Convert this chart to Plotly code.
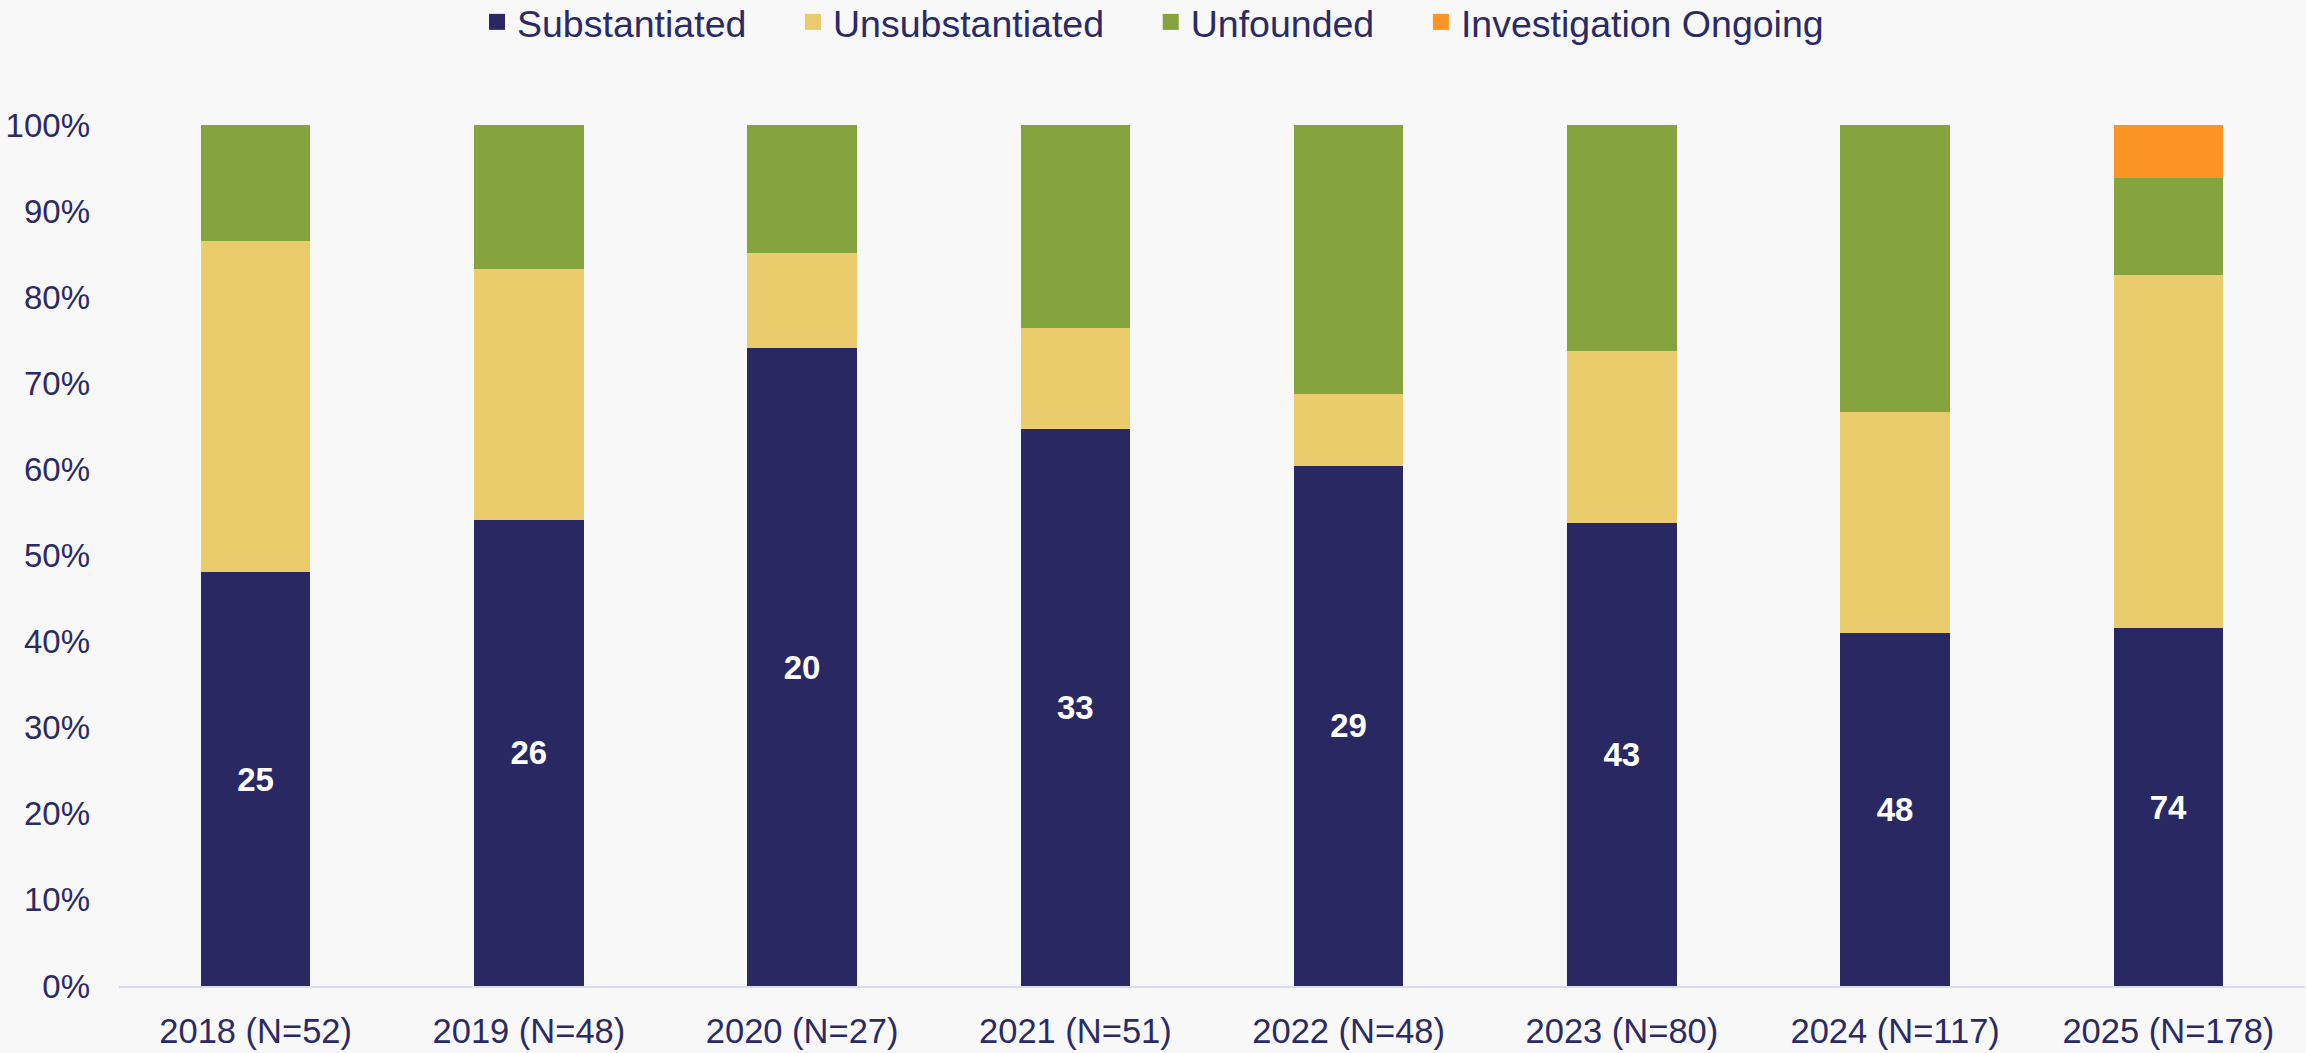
import plotly.graph_objects as go

# ---- data (counts per year) ----
categories = ["2018 (N=52)", "2019 (N=48)", "2020 (N=27)", "2021 (N=51)",
              "2022 (N=48)", "2023 (N=80)", "2024 (N=117)", "2025 (N=178)"]
substantiated = [25, 26, 20, 33, 29, 43, 48, 74]
unsubstantiated = [20, 14, 3, 6, 4, 16, 30, 73]
unfounded = [7, 8, 4, 12, 15, 21, 39, 20]
ongoing = [0, 0, 0, 0, 0, 0, 0, 11]
y_ticks = [0, 10, 20, 30, 40, 50, 60, 70, 80, 90, 100]
y_tick_labels = [f"{v}%" for v in y_ticks]

series_names = ["Substantiated", "Unsubstantiated", "Unfounded", "Investigation Ongoing"]
series_values = [substantiated, unsubstantiated, unfounded, ongoing]
series_colors = ["#292862", "#EBCC6D", "#85A43E", "#FA9424"]

TEXT = "#2B2A64"
FONT = "Liberation Sans, Arial, sans-serif"
NBSP = "\u00a0"

fig = go.Figure()
for i, (name, vals, col) in enumerate(zip(series_names, series_values, series_colors)):
    kw = {}
    if i == 0:
        kw = dict(text=[str(v) for v in vals], texttemplate="%{text}",
                  textposition="inside", insidetextanchor="middle", textangle=0,
                  textfont=dict(family=FONT, size=33, color="white", weight="bold"))
    fig.add_trace(go.Bar(x=categories, y=vals, name=name, marker_color=col,
                         marker_line_width=0, showlegend=False, **kw))

# legend proxies (larger square symbols)
for i, (name, col) in enumerate(zip(series_names, series_colors)):
    label = name + (NBSP * 4 if i < len(series_names) - 1 else "")
    fig.add_trace(go.Scatter(x=[None], y=[None], mode="markers", name=label,
                             marker=dict(symbol="square", size=16, color=col),
                             showlegend=True))

fig.update_layout(
    barmode="stack",
    barnorm="percent",
    bargap=0.6,
    width=2306, height=1053,
    paper_bgcolor="#F8F8F8",
    plot_bgcolor="#F8F8F8",
    margin=dict(l=119, r=1, t=125, b=67),
    font=dict(family=FONT, color=TEXT),
    legend=dict(orientation="h", xref="container", yref="container",
                x=0.5, xanchor="center", y=1 - 22 / 1053, yanchor="middle",
                font=dict(size=37.5, color=TEXT, family=FONT),
                bgcolor="rgba(0,0,0,0)", traceorder="normal",
                itemsizing="trace"),
    xaxis=dict(showline=True, linecolor="#D9D9F0", linewidth=2,
               showgrid=False, ticks="", tickfont=dict(size=34.5, color=TEXT),
               ticklabelstandoff=14),
    yaxis=dict(range=[0, 100], tickvals=y_ticks, ticktext=y_tick_labels,
               showgrid=False, zeroline=False, showline=False, ticks="",
               tickfont=dict(size=33, color=TEXT), ticklabelstandoff=28),
)

fig.write_html(
    "out.html",
    config={"displayModeBar": False},
    post_script="document.body.style.margin='0';document.body.style.overflow='hidden';"
                "document.body.style.background='#F8F8F8';",
)
